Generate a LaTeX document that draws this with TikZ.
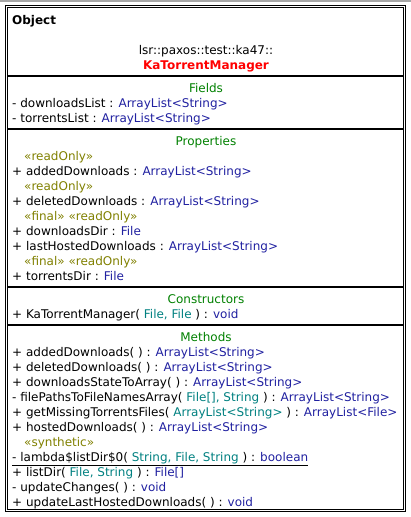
\documentclass[tikz,border=0pt]{standalone}
\usepackage{fontspec}
\setmainfont{DejaVu Sans}
\usepackage{tikz}
\usetikzlibrary{positioning}
\definecolor{typeblue}{RGB}{32,32,160}
\definecolor{paramteal}{RGB}{0,128,128}
\definecolor{headgreen}{RGB}{0,128,0}
\definecolor{stereoolive}{RGB}{128,128,0}
\definecolor{namered}{RGB}{255,0,0}
\newcommand{\ty}[1]{\textcolor{typeblue}{#1}}
\newcommand{\pa}[1]{\textcolor{paramteal}{#1}}
\newcommand{\AL}[1]{ArrayList<#1>}
\tikzstyle{member}=[anchor=base west,inner sep=0pt,font=\fontsize{12}{14}\selectfont]
\tikzstyle{stereo}=[member,text=stereoolive,xshift=12pt]
\tikzstyle{heading}=[anchor=base,inner sep=0pt,font=\fontsize{12}{14}\selectfont]
\tikzstyle{compart}=[heading,text=headgreen]
\tikzstyle{separator}=[line width=2pt]

\begin{document}
\begin{tikzpicture}[x=1pt,y=-1pt]
\useasboundingbox (0,0) rectangle (411,517);
\draw[line width=2pt,black!35] (0,1) -- (411,1);
% class frame
\draw[line width=1pt] (5.5,5.5) rectangle (405.5,511.5);
\draw[line width=1pt] (7.5,7.5) rectangle (403.5,509.5);
\draw[separator] (7.5,76) -- (403.5,76);
\draw[separator] (7.5,129) -- (403.5,129);
\draw[separator] (7.5,287) -- (403.5,287);
\draw[separator] (7.5,325) -- (403.5,325);

% header
\node (parent) [member,font=\fontsize{12}{14}\selectfont\bfseries] at (12,24) {Object};
\node (pkg) [heading] at (206,54) {lsr::paxos::test::ka47::};
\node (cls) [heading,text=namered,font=\fontsize{12}{14}\selectfont\bfseries] at (206,69) {KaTorrentManager};

% fields
\node (fields) [compart] at (206,92) {Fields};
\node (f1) [member] at (12,107) {- downloadsList : \ty{\AL{String}}};
\node (f2) [member] at (12,122) {- torrentsList : \ty{\AL{String}}};

% properties
\node (props) [compart] at (206,145) {Properties};
\node (s1) [stereo] at (12,160) {«readOnly»};
\node (p1) [member] at (12,175) {+ addedDownloads : \ty{\AL{String}}};
\node (s2) [stereo] at (12,190) {«readOnly»};
\node (p2) [member] at (12,205) {+ deletedDownloads : \ty{\AL{String}}};
\node (s3) [stereo] at (12,220) {«final» «readOnly»};
\node (p3) [member] at (12,235) {+ downloadsDir : \ty{File}};
\node (p4) [member] at (12,250) {+ lastHostedDownloads : \ty{\AL{String}}};
\node (s4) [stereo] at (12,265) {«final» «readOnly»};
\node (p5) [member] at (12,280) {+ torrentsDir : \ty{File}};

% constructors
\node (ctors) [compart] at (206,303) {Constructors};
\node (c1) [member] at (12,318) {+ KaTorrentManager( \pa{File, File} ) : \ty{void}};

% methods
\node (meths) [compart] at (206,341) {Methods};
\node (m1) [member] at (12,356) {+ addedDownloads( ) : \ty{\AL{String}}};
\node (m2) [member] at (12,371) {+ deletedDownloads( ) : \ty{\AL{String}}};
\node (m3) [member] at (12,386) {+ downloadsStateToArray( ) : \ty{\AL{String}}};
\node (m4) [member] at (12,401) {- filePathsToFileNamesArray( \pa{File[], String} ) : \ty{\AL{String}}};
\node (m5) [member] at (12,416) {+ getMissingTorrentsFiles( \pa{\AL{String}} ) : \ty{\AL{File}}};
\node (m6) [member] at (12,431) {+ hostedDownloads( ) : \ty{\AL{String}}};
\node (s5) [stereo] at (12,446) {«synthetic»};
\node (m7) [member] at (12,461) {\underline{- lambda\$listDir\$0( \pa{String, File, String} ) : \ty{boolean}}};
\node (m8) [member] at (12,476) {+ listDir( \pa{File, String} ) : \ty{File[]}};
\node (m9) [member] at (12,491) {- updateChanges( ) : \ty{void}};
\node (m10) [member] at (12,506) {+ updateLastHostedDownloads( ) : \ty{void}};
\end{tikzpicture}
\end{document}
